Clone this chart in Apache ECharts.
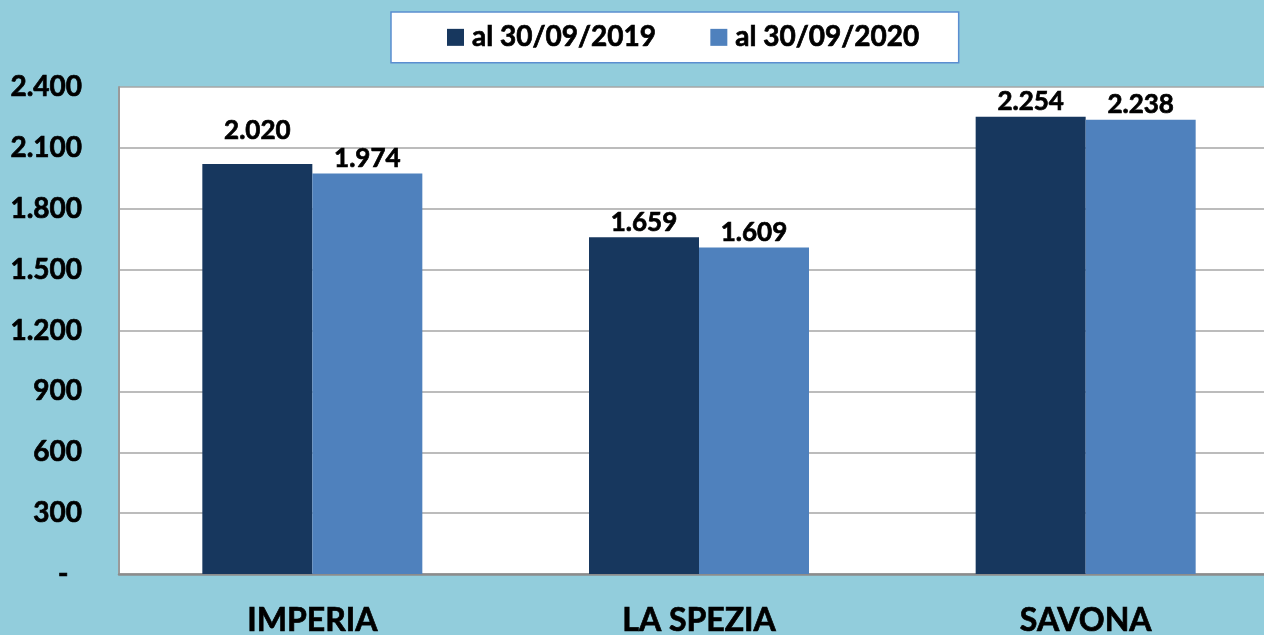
<!DOCTYPE html>
<html>
<head>
<meta charset="utf-8">
<script src="https://cdn.jsdelivr.net/npm/echarts@6/dist/echarts.min.js"></script>
<style>
  html, body { margin: 0; padding: 0; background: #92CDDC; }
  #main { width: 1264px; height: 635px; }
</style>
</head>
<body>
<div id="main"></div>
<script>
var myChart = echarts.init(document.getElementById('main'));

var province = ['IMPERIA', 'LA SPEZIA', 'SAVONA'];
var seriesNames = ['al 30/09/2019', 'al 30/09/2020'];
var val2019 = [2020, 1659, 2254];
var val2020 = [1974, 1609, 2238];

// formato italiano: 2.400
function fmt(v) {
    return String(v).replace(/\B(?=(\d{3})+(?!\d))/g, '.');
}

var font = 'Lato';
// un filo di contorno per rendere il grassetto più pieno
var heavy = { textBorderColor: '#000', textBorderWidth: 0.7 };

var labelStyle = Object.assign({
    show: true,
    position: 'top',
    distance: 2,
    fontFamily: font,
    fontWeight: 'bold',
    fontSize: 26,
    color: '#000',
    formatter: function (p) { return fmt(p.value); }
}, heavy);

var data2019 = val2019.map(function (v, i) {
    // l'etichetta di IMPERIA 2019 sta più in alto
    if (i === 0) return { value: v, label: { distance: 20 } };
    return v;
});

option = {
    backgroundColor: '#92CDDC',
    legend: {
        left: 391,
        top: 12,
        padding: [11, 39, 11, 56],
        backgroundColor: '#fff',
        borderColor: '#5B8ED0',
        borderWidth: 1.5,
        itemWidth: 17,
        itemHeight: 17,
        itemGap: 54,
        icon: 'rect',
        textStyle: Object.assign({
            fontFamily: font,
            fontWeight: 'bold',
            fontSize: 28,
            color: '#000',
            padding: [0, 0, 0, 3]
        }, heavy),
        data: seriesNames
    },
    grid: {
        left: 119,
        right: -15,
        top: 87,
        bottom: 61,
        show: true,
        backgroundColor: '#fff',
        borderWidth: 0,
        containLabel: false,
        outerBoundsMode: 'none'
    },
    xAxis: {
        type: 'category',
        data: province,
        axisLine: { lineStyle: { color: '#8C8C8C', width: 2.5 } },
        axisTick: { show: false },
        axisLabel: Object.assign({
            margin: 31,
            fontFamily: font,
            fontWeight: 'bold',
            fontSize: 32,
            color: '#000'
        }, heavy)
    },
    yAxis: {
        type: 'value',
        min: 0,
        max: 2400,
        interval: 300,
        axisLine: { show: true, lineStyle: { color: '#9A9A9A', width: 2 } },
        axisTick: { show: false },
        splitLine: { lineStyle: { color: '#A6A6A6', width: 1.5 } },
        axisLabel: Object.assign({
            margin: 37,
            fontFamily: font,
            fontWeight: 'bold',
            fontSize: 28,
            color: '#000',
            formatter: function (v) { return v === 0 ? '-  ' : fmt(v); }
        }, heavy)
    },
    series: [
        {
            name: seriesNames[0],
            type: 'bar',
            barWidth: 110,
            barGap: '0%',
            itemStyle: { color: '#17375E' },
            label: labelStyle,
            data: data2019
        },
        {
            name: seriesNames[1],
            type: 'bar',
            barWidth: 110,
            barGap: '0%',
            itemStyle: { color: '#4F81BD' },
            label: labelStyle,
            data: val2020
        }
    ]
};

myChart.setOption(option);
</script>
</body>
</html>
